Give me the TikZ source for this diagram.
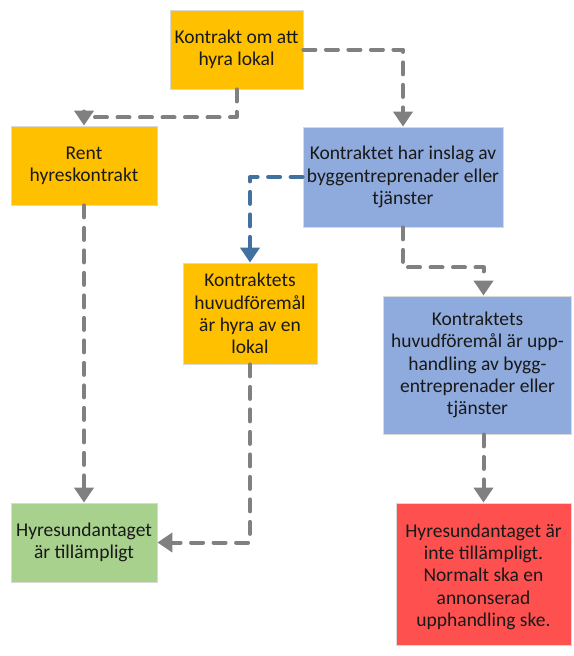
\documentclass[tikz,border=0pt]{standalone}
\usepackage{fontspec}
\setmainfont{Carlito}
\usetikzlibrary{arrows.meta,calc}
\definecolor{orng}{RGB}{255,192,0}
\definecolor{blu}{RGB}{143,170,220}
\definecolor{grn}{RGB}{169,209,142}
\definecolor{rd}{RGB}{255,80,80}
\definecolor{arrgray}{RGB}{128,128,128}
\definecolor{arrblue}{RGB}{65,113,160}
\tikzset{
  box/.style={draw=black!15, line width=0.8pt, align=center, inner sep=2pt,
    font=\fontsize{19.5}{22.2}\selectfont, text=black!90},
  conn/.style={draw=arrgray, line width=4pt, line cap=round, line join=round,
    dash pattern=on 12pt off 10.5pt, -{Triangle[width=19pt,length=15pt,line cap=butt]}},
  connb/.style={conn, draw=arrblue},
}
\begin{document}
\begin{tikzpicture}[x=1pt,y=-1pt]
\useasboundingbox[fill=white] (0,0) rectangle (573,656);
\node[box, fill=orng, minimum width=133pt, minimum height=79pt] (b1) at (236.5,49.5) {Kontrakt om att\\hyra lokal};
\node[box, fill=orng, minimum width=146pt, minimum height=79pt] (b2) at (84,165.5) {Rent\\hyreskontrakt};
\node[box, fill=blu, minimum width=200pt, minimum height=100pt] (b3) at (403,177) {Kontraktet har inslag av\\byggentreprenader eller\\tjänster};
\node[box, fill=orng, minimum width=134pt, minimum height=101pt] (b4) at (250,313.5) {Kontraktets\\huvudföremål\\är hyra av en\\lokal};
\node[box, fill=blu, minimum width=188pt, minimum height=138pt] (b5) at (477.5,365) {Kontraktets\\huvudföremål är upp-\\handling av bygg-\\entreprenader eller\\tjänster};
\node[box, fill=grn, minimum width=146pt, minimum height=79pt] (b6) at (84,542.5) {Hyresundantaget\\är tillämpligt};
\node[box, fill=rd, minimum width=175pt, minimum height=142pt] (b7) at (483.5,574) {\\[-3pt]Hyresundantaget är\\inte tillämpligt.\\Normalt ska en\\annonserad\\upphandling ske.};
\coordinate (b5in) at ($(b5.north)+(6,0)$);
\draw[conn] (b1.east) -| (b3.north);
\draw[conn] (b1.south) -- ++(0,28) -| (b2.north);
\draw[connb] (b3.west) -| (b4.north);
\draw[conn] (b3.south) -- ++(0,40) -| (b5in);
\draw[conn] (b2.south) -- (b6.north);
\draw[conn] (b4.south) |- (b6.east);
\draw[conn] (b5.south -| b7.north) -- (b7.north);
\end{tikzpicture}
\end{document}
